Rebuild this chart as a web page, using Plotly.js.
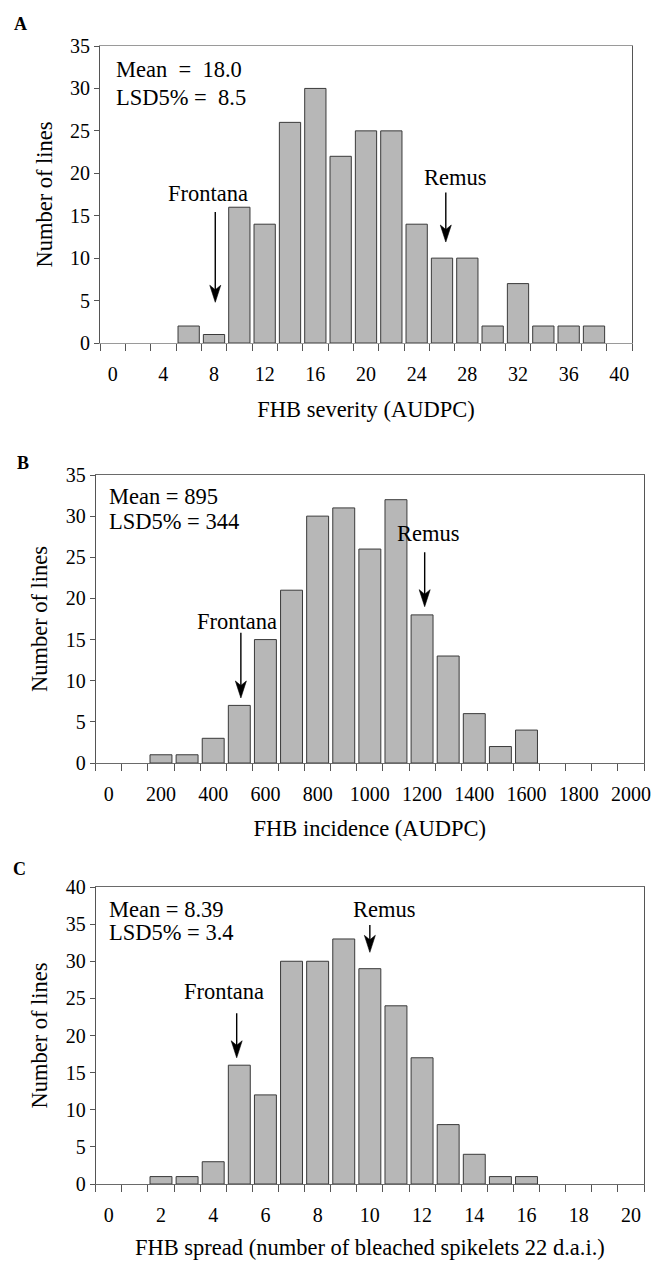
<!DOCTYPE html>
<html>
<head>
<meta charset="utf-8">
<script src="https://cdn.plot.ly/plotly-3.0.1.min.js"></script>
<style>html,body{margin:0;padding:0;background:#fff;}#chart{width:655px;height:1266px;}</style>
</head>
<body>
<div id="chart"></div>
<script>
// ---- Data ----
const catA = [0,2,4,6,8,10,12,14,16,18,20,22,24,26,28,30,32,34,36,38,40];
const valsA = [0,0,0,2,1,16,14,26,30,22,25,25,14,10,10,2,7,2,2,2,0];
const tickA = [0,4,8,12,16,20,24,28,32,36,40];

const catB = [0,100,200,300,400,500,600,700,800,900,1000,1100,1200,1300,1400,1500,1600,1700,1800,1900,2000];
const valsB = [0,0,1,1,3,7,15,21,30,31,26,32,18,13,6,2,4,0,0,0,0];
const tickB = [0,200,400,600,800,1000,1200,1400,1600,1800,2000];

const catC = [0,1,2,3,4,5,6,7,8,9,10,11,12,13,14,15,16,17,18,19,20];
const valsC = [0,0,1,1,3,16,12,30,30,33,29,24,17,8,4,1,1,0,0,0,0];
const tickC = [0,2,4,6,8,10,12,14,16,18,20];

const statsA = ["Mean\u00a0 =\u00a0 18.0", "LSD5% =\u00a0 8.5"];
const statsB = ["Mean = 895", "LSD5% = 344"];
const statsC = ["Mean = 8.39", "LSD5% = 3.4"];

const xTitles = ["FHB severity (AUDPC)", "FHB incidence (AUDPC)", "FHB spread (number of bleached spikelets 22 d.a.i.)"];

// ---- Helpers ----
const W = 655, H = 1266;
const px = x => x / W;
const py = y => 1 - y / H;
const FONT = '"Liberation Serif", "Times New Roman", Times, serif';
const FT = 20;   // tick labels
const FS = 22.5; // titles & annotations

function barTrace(cat, vals, xa, ya) {
  return {
    type: 'bar', x: cat, y: vals, xaxis: xa, yaxis: ya,
    marker: {
      color: '#b7b7b7',
      line: {color: '#3a3a3a', width: vals.map(v => v > 0 ? 1 : 0)}
    },
    hoverinfo: 'skip'
  };
}

function xAxis(cat, ticks, dom, title, anchor, standoff, lc) {
  const step = cat[1] - cat[0];
  return {
    domain: dom, anchor: anchor,
    range: [cat[0] - step/2, cat[cat.length-1] + step/2],
    tickmode: 'array', tickvals: ticks, ticktext: ticks.map(String),
    ticks: 'outside', ticklen: 13, tickcolor: 'rgba(0,0,0,0)',
    minor: {tick0: cat[0] - step/2, dtick: step, ticks: 'outside', ticklen: 7, tickcolor: '#555', tickwidth: 1, showgrid: false},
    showgrid: false, zeroline: false,
    showline: true, linecolor: lc, linewidth: 1, mirror: true,
    tickfont: {family: FONT, size: FT, color: '#000'},
    title: {text: title, font: {family: FONT, size: FS, color: '#000'}, standoff: standoff},
    fixedrange: true
  };
}

function yAxis(max, dom, anchor) {
  return {
    domain: dom, anchor: anchor, range: [0, max], dtick: 5,
    ticks: 'outside', ticklen: 5, tickcolor: '#555',
    showgrid: false, zeroline: false,
    showline: true, linecolor: '#555', linewidth: 1, mirror: true,
    tickfont: {family: FONT, size: FT, color: '#000'},
    title: {text: 'Number of lines', font: {family: FONT, size: FS, color: '#000'}, standoff: 11},
    fixedrange: true
  };
}

const data = [
  barTrace(catA, valsA, 'x', 'y'),
  barTrace(catB, valsB, 'x2', 'y2'),
  barTrace(catC, valsC, 'x3', 'y3')
];

function txt(x, y, t, opts) {
  return Object.assign({xref: 'paper', yref: 'paper', x: px(x), y: py(y), text: t, showarrow: false,
    xanchor: 'left', yanchor: 'middle', font: {family: FONT, size: FS, color: '#000'}}, opts || {});
}
const shapes = [];
function arrow(xr, yr, x, yTip, yTail) {
  // arrowhead: narrow, notched, filled triangle anchored at the tip (pixel-sized)
  shapes.push({type: 'path', xref: xr, yref: yr, xsizemode: 'pixel', ysizemode: 'pixel',
    xanchor: x, yanchor: yTip, path: 'M0,0 L-5.5,17 L0,12.5 L5.5,17 Z',
    fillcolor: '#000', line: {width: 0.6, color: '#000'}});
  return {xref: xr, yref: yr, axref: xr, ayref: yr, x: x, y: yTip, ax: x, ay: yTail, text: '',
    showarrow: true, arrowhead: 0, arrowwidth: 1.4, arrowcolor: '#000', standoff: 10};
}
function label(xr, yr, x, y, t) {
  return {xref: xr, yref: yr, x: x, y: y, text: t, showarrow: false, xanchor: 'center', yanchor: 'middle',
    font: {family: FONT, size: FS, color: '#000'}};
}

const annotations = [
  txt(20, 24, '<b>A</b>', {xanchor: 'center', font: {family: FONT, size: 18, color: '#000'}}),
  txt(22.5, 463, '<b>B</b>', {xanchor: 'center', font: {family: FONT, size: 18, color: '#000'}}),
  txt(19, 869, '<b>C</b>', {xanchor: 'center', font: {family: FONT, size: 18, color: '#000'}}),
  txt(114, 70, statsA[0]), txt(114, 97, statsA[1]),
  txt(107, 497, statsB[0]), txt(107, 521, statsB[1]),
  txt(107, 909, statsC[0]), txt(107, 932, statsC[1]),
  // Panel A
  label('x', 'y', 7.5, 17.6, 'Frontana'),
  arrow('x', 'y', 8.1, 4.8, 15.6),
  label('x', 'y', 27.1, 19.5, 'Remus'),
  arrow('x', 'y', 26.3, 11.9, 17.9),
  // Panel B
  label('x2', 'y2', 490, 17.2, 'Frontana'),
  arrow('x2', 'y2', 506, 7.9, 16.0),
  label('x2', 'y2', 1225, 27.9, 'Remus'),
  arrow('x2', 'y2', 1210, 19.0, 25.8),
  // Panel C
  label('x3', 'y3', 4.4, 25.9, 'Frontana'),
  arrow('x3', 'y3', 4.9, 17.0, 23.2),
  label('x3', 'y3', 10.55, 37.0, 'Remus'),
  arrow('x3', 'y3', 10.0, 31.2, 35.1)
];

const layout = {
  width: W, height: H,
  margin: {l: 0, r: 0, t: 0, b: 0},
  paper_bgcolor: '#fff', plot_bgcolor: '#fff',
  showlegend: false, bargap: 0.16,
  font: {family: FONT, size: FS, color: '#000'},
  xaxis: xAxis(catA, tickA, [px(100), px(632)], xTitles[0], 'y', 17, '#9a9a9a'),
  yaxis: yAxis(35, [py(343), py(46)], 'x'),
  xaxis2: xAxis(catB, tickB, [px(95.7), px(644)], xTitles[1], 'y2', 16, '#6a6a6a'),
  yaxis2: yAxis(35, [py(763), py(475)], 'x2'),
  xaxis3: xAxis(catC, tickC, [px(95.7), px(644)], xTitles[2], 'y3', 14, '#6a6a6a'),
  yaxis3: yAxis(40, [py(1184), py(887)], 'x3'),
  annotations: annotations,
  shapes: shapes
};

Plotly.newPlot('chart', data, layout, {staticPlot: true, displayModeBar: false});
</script>
</body>
</html>
